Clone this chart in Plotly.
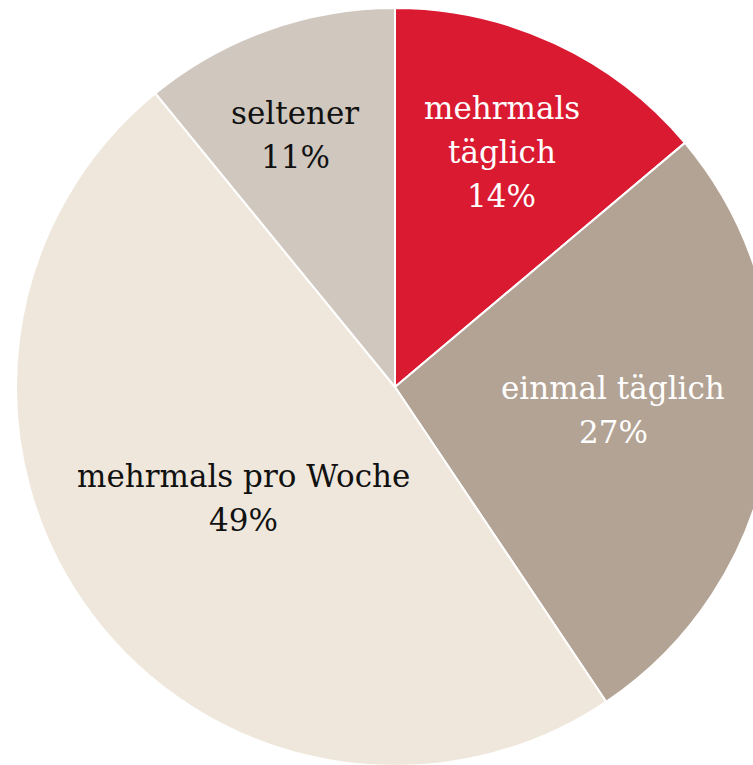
import plotly.graph_objects as go

# Data
categories = ["mehrmals täglich", "einmal täglich", "mehrmals pro Woche", "seltener"]
shares = [14, 27, 49, 11]
label_lines = [["mehrmals", "täglich"], ["einmal täglich"], ["mehrmals pro Woche"], ["seltener"]]

colors = ["#DA1A31", "#B3A395", "#EFE7DB", "#D0C7BE"]
text_colors = ["white", "white", "#111111", "#111111"]

W, H = 800, 780
cx, cy, r = 395, 387, 379

fig = go.Figure(go.Pie(
    labels=categories,
    values=shares,
    sort=False,
    direction="clockwise",
    rotation=0,
    marker=dict(colors=colors, line=dict(color="white", width=2)),
    textinfo="none",
    hoverinfo="label+percent",
    showlegend=False,
    domain=dict(x=[(cx - r) / W, (cx + r) / W], y=[(H - cy - r) / H, (H - cy + r) / H]),
))

# label block centres (pixels) and line spacing
label_pos = [(502, 152), (613, 410), (243, 498), (295, 135)]
line_gap = 44
for lines, share, col, (px, py) in zip(label_lines, shares, text_colors, label_pos):
    all_lines = lines + [f"{share}%"]
    n = len(all_lines)
    for i, ln in enumerate(all_lines):
        ly = py + (i - (n - 1) / 2) * line_gap
        fig.add_annotation(
            x=px / W, y=1 - ly / H, xref="paper", yref="paper",
            text=ln, showarrow=False,
            font=dict(family="DejaVu Serif", size=31, color=col),
            xanchor="center", yanchor="middle", align="center",
        )

fig.update_layout(
    width=W, height=H,
    margin=dict(l=0, r=0, t=0, b=0),
    paper_bgcolor="white", plot_bgcolor="white",
)

fig.write_html(
    "out.html",
    config={"displayModeBar": False},
    post_script="document.body.style.margin='0';document.body.style.overflow='hidden';",
)
